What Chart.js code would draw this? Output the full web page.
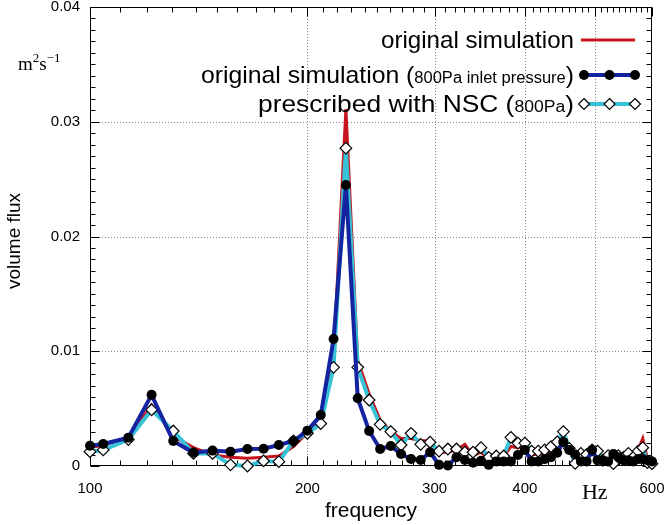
<!DOCTYPE html>
<html><head><meta charset="utf-8">
<script src="https://cdn.jsdelivr.net/npm/chart.js@4/dist/chart.umd.min.js"></script>
<style>html,body{margin:0;padding:0;background:#fff;}</style>
</head><body>
<canvas id="c" width="665" height="525" style="width:665px;height:525px;display:block"></canvas>
<script>
// ---- data ----
const frequencies = [100, 104.3, 113.0, 121.7, 130.4, 139.1, 147.8, 156.5, 165.2, 173.9, 182.6, 191.3, 200.0, 208.7,
  217.4, 226.1, 234.8, 243.5, 252.2, 260.9, 269.6, 278.3, 287.0, 295.7, 304.3, 313.0, 321.7, 330.4, 339.1, 347.8,
  356.5, 365.2, 373.9, 382.6, 391.3, 400.0, 408.7, 417.4, 426.1, 434.8, 443.5, 452.2, 460.9, 469.6, 478.3, 487.0,
  495.7, 504.3, 513.0, 521.7, 530.4, 539.1, 547.8, 556.5, 565.2, 573.9, 582.6, 591.3, 600.0];

const originalSimulation = [0.0016, 0.0018, 0.0025, 0.0053, 0.0026, 0.0016, 0.00096, 0.00076, 0.00067, 0.00076, 0.00087, 0.0017, 0.0029, 0.0042,
  0.0095, 0.0311, 0.0092, 0.0063, 0.0040, 0.0030, 0.0024, 0.0024, 0.0022, 0.0022, 0.0012, 0.0012, 0.0014, 0.0019, 0.0009, 0.0012,
  0.0006, 0.0007, 0.0008, 0.0017, 0.0016, 0.0018, 0.0010, 0.0010, 0.0011, 0.0013, 0.0019, 0.0028, 0.0014, 0.0006, 0.0008, 0.0008,
  0.0012, 0.0010, 0.0006, 0.0008, 0.0006, 0.0008, 0.0007, 0.0009, 0.0008, 0.0014, 0.0024, 0.0006, 0.0004];

const originalSimulation800Pa = [0.00177, 0.00192, 0.00247, 0.0062, 0.00218, 0.00116, 0.00134, 0.00125, 0.00148, 0.0015, 0.00183, 0.00218, 0.00308, 0.00444,
  0.01107, 0.02449, 0.0059, 0.00305, 0.00148, 0.00174, 0.00105, 0.00061, 0.00052, 0.0012, 0.0001, 0.00004, 0.00076, 0.00052, 0.00029, 0.00046,
  0.0001, 0.0004, 0.0004, 0.0004, 0.00096, 0.0014, 0.0004, 0.0004, 0.0006, 0.00076, 0.00116, 0.0021, 0.0014, 0.001, 0.0004, 0.0004,
  0.0014, 0.0005, 0.0005, 0.0004, 0.00105, 0.00076, 0.0005, 0.0005, 0.0004, 0.0006, 0.0006, 0.0005, 0.0004];

const prescribedNSC800Pa = [0.00125, 0.0014, 0.0023, 0.0049, 0.00305, 0.0011, 0.0011, 0.0001, 0.0, 0.00044, 0.00038, 0.00218, 0.00285, 0.0037,
  0.0086, 0.0277, 0.0086, 0.00575, 0.00363, 0.003, 0.00183, 0.00285, 0.00189, 0.00207, 0.0013, 0.00148, 0.00148, 0.0012, 0.0012, 0.0016,
  0.00076, 0.00087, 0.00087, 0.0025, 0.002, 0.002, 0.0013, 0.0013, 0.0014, 0.00168, 0.0021, 0.003, 0.00154, 0.00023, 0.0011, 0.001,
  0.0014, 0.0013, 0.0005, 0.0009, 0.0002, 0.0009, 0.00076, 0.0011, 0.00076, 0.0013, 0.0016, 0.0003, 0.0002];

const xTickValues = [100, 200, 300, 400, 500, 600];
const xTickLabels = ['100', '200', '300', '400', 'Hz', '600'];
const yTickValues = [0, 0.01, 0.02, 0.03, 0.04];
const yTickLabels = ['0', '0.01', '0.02', '0.03', '0.04'];
const xGridValues = [200, 300, 400, 500];
const yGridValues = [0.01, 0.02, 0.03];
const xTitle = 'frequency';
const yTitle = 'volume flux';
const unitLabelValue = 0.035;

// ---- styling ----
const RED = '#c8141e', BLUE = '#1423a0', CYAN = '#37c3d7';
const SANS = '"Liberation Sans", Arial, sans-serif';
const SERIF = '"Liberation Serif", "DejaVu Serif", serif';

const pts = (arr) => frequencies.map((f, i) => ({ x: f, y: arr[i] }));
const noPad = (s) => { s.paddingTop = 0; s.paddingBottom = 0; s.paddingLeft = 0; s.paddingRight = 0; };

function drawDiamond(ctx, px, py, r) {
  ctx.beginPath();
  ctx.moveTo(px, py - r); ctx.lineTo(px + r, py); ctx.lineTo(px, py + r); ctx.lineTo(px - r, py); ctx.closePath();
  ctx.fillStyle = '#fff'; ctx.fill(); ctx.strokeStyle = '#000'; ctx.lineWidth = 1.2; ctx.stroke();
}

const framePlugin = {
  id: 'frame',
  beforeDatasetsDraw(chart) {
    const { ctx, chartArea: a, scales: { x, y } } = chart;
    ctx.save();
    ctx.strokeStyle = '#8a8a8a';
    ctx.lineWidth = 1;
    ctx.setLineDash([1, 2]);
    xGridValues.forEach(v => {
      const px = Math.round(x.getPixelForValue(v)) + 0.5;
      ctx.beginPath(); ctx.moveTo(px, a.top); ctx.lineTo(px, a.bottom); ctx.stroke();
    });
    yGridValues.forEach(v => {
      const py = Math.round(y.getPixelForValue(v)) + 0.5;
      ctx.beginPath(); ctx.moveTo(a.left, py); ctx.lineTo(a.right, py); ctx.stroke();
    });
    ctx.setLineDash([]);
    ctx.strokeStyle = '#000';
    ctx.lineWidth = 1;
    const L = Math.round(a.left) + 0.5, R = Math.round(a.right) - 0.5;
    const T = Math.round(a.top) + 0.5, B = Math.round(a.bottom) - 0.5;
    for (let f = 100; f <= 600; f += 10) {
      const major = f % 100 === 0;
      const len = major ? 9 : 5;
      const px = Math.round(x.getPixelForValue(f)) + 0.5;
      ctx.beginPath();
      ctx.moveTo(px, B); ctx.lineTo(px, B - len);
      ctx.moveTo(px, T); ctx.lineTo(px, T + len);
      ctx.stroke();
    }
    for (let k = 0; k <= 40; k++) {
      const v = k / 1000;
      const major = k % 10 === 0;
      const len = major ? 9 : 5;
      const py = Math.round(y.getPixelForValue(v)) + 0.5;
      ctx.beginPath();
      ctx.moveTo(L, py); ctx.lineTo(L + len, py);
      ctx.moveTo(R, py); ctx.lineTo(R - len, py);
      ctx.stroke();
    }
    ctx.strokeRect(L, T, R - L, B - T);
    ctx.restore();
  },
  afterDraw(chart) {
    const { ctx, chartArea: a, scales: { y } } = chart;
    ctx.save();
    ctx.fillStyle = '#000';
    ctx.textBaseline = 'alphabetic';
    // y axis title
    ctx.save();
    ctx.translate(15, 241);
    ctx.rotate(-Math.PI / 2);
    ctx.font = '19px ' + SANS;
    ctx.textAlign = 'center';
    ctx.textBaseline = 'middle';
    ctx.fillText(yTitle, 0, 0);
    ctx.restore();

    // unit label m^2 s^-1
    const uy = y.getPixelForValue(unitLabelValue) + 6;
    let ux = 18;
    const seg = (t, size, dy) => {
      ctx.font = size + 'px ' + SERIF;
      ctx.fillText(t, ux, uy + dy);
      ux += ctx.measureText(t).width;
    };
    seg('m', 19, 0); seg('2', 13, -8); seg('s', 19, 0); seg('\u22121', 13, -8);

    // legend
    const items = [
      { parts: [['original simulation', 24]], type: 'red', yc: 40, left: 381 },
      { parts: [['original simulation (', 24], ['800Pa inlet pressure', 16], [')', 24]], type: 'blue', yc: 75, left: 201 },
      { parts: [['prescribed with NSC (', 24], ['800Pa', 16], [')', 24]], type: 'cyan', yc: 104, left: 258 },
    ];
    const textRight = 574, s0 = 584, s1 = 635;
    items.forEach(it => {
      let w = 0;
      it.parts.forEach(([t, sz]) => { ctx.font = sz + 'px ' + SANS; w += ctx.measureText(t).width; });
      const k = (textRight - it.left) / w;
      ctx.save();
      ctx.translate(it.left, it.yc + 8);
      ctx.scale(k, 1);
      let tx = 0;
      it.parts.forEach(([t, sz]) => {
        ctx.font = sz + 'px ' + SANS;
        ctx.fillText(t, tx, 0);
        tx += ctx.measureText(t).width;
      });
      ctx.restore();
      ctx.lineCap = 'butt';
      if (it.type === 'red') {
        ctx.strokeStyle = RED; ctx.lineWidth = 3;
        ctx.beginPath(); ctx.moveTo(s0 - 3, it.yc); ctx.lineTo(s1, it.yc); ctx.stroke();
      } else if (it.type === 'blue') {
        ctx.strokeStyle = BLUE; ctx.lineWidth = 4;
        ctx.beginPath(); ctx.moveTo(s0, it.yc); ctx.lineTo(s1, it.yc); ctx.stroke();
        ctx.fillStyle = '#000';
        [s0, (s0 + s1) / 2, s1].forEach(px => { ctx.beginPath(); ctx.arc(px, it.yc, 5, 0, Math.PI * 2); ctx.fill(); });
      } else {
        ctx.strokeStyle = CYAN; ctx.lineWidth = 4;
        ctx.beginPath(); ctx.moveTo(s0, it.yc); ctx.lineTo(s1, it.yc); ctx.stroke();
        [s0, (s0 + s1) / 2, s1].forEach(px => drawDiamond(ctx, px, it.yc, 5.5));
      }
      ctx.fillStyle = '#000';
    });
    ctx.restore();
  }
};

new Chart(document.getElementById('c'), {
  type: 'scatter',
  data: {
    datasets: [
      { label: 'original simulation (800Pa inlet pressure)', data: pts(originalSimulation800Pa), showLine: true,
        borderColor: BLUE, borderWidth: 4, pointStyle: 'circle', pointRadius: 5, pointBackgroundColor: '#000',
        pointBorderColor: '#000', pointBorderWidth: 0, order: 1, clip: false, tension: 0 },
      { label: 'prescribed with NSC (800Pa)', data: pts(prescribedNSC800Pa), showLine: true,
        borderColor: CYAN, borderWidth: 4, pointStyle: 'rectRot', pointRadius: 5.8, pointBackgroundColor: '#fff',
        pointBorderColor: '#000', pointBorderWidth: 1.2, order: 2, clip: false, tension: 0 },
      { label: 'original simulation', data: pts(originalSimulation), showLine: true,
        borderColor: RED, borderWidth: 3, pointRadius: 0, order: 3, clip: false, tension: 0 },
    ]
  },
  options: {
    responsive: false, animation: false, devicePixelRatio: 1,
    layout: { padding: { left: 0, top: 7, right: 13, bottom: 0 }, autoPadding: false },
    plugins: { legend: { display: false }, tooltip: { enabled: false } },
    scales: {
      x: {
        type: 'logarithmic', min: 100, max: 600, position: 'bottom',
        afterBuildTicks: (s) => { s.ticks = xTickValues.map(v => ({ value: v })); },
        afterFit: (s) => { s.height = 59; noPad(s); },
        grid: { display: false, drawTicks: false }, border: { display: false },
        ticks: {
          autoSkip: false, maxRotation: 0, padding: 14, color: '#000',
          callback: (v) => xTickLabels[xTickValues.indexOf(v)],
          font: (c) => (c.tick && c.tick.value === 500) ? { family: SERIF, size: 22 } : { family: SANS, size: 15 }
        },
        title: { display: true, text: xTitle, color: '#000', font: { family: SANS, size: 21 }, padding: { top: 0, bottom: 1 } }
      },
      y: {
        type: 'linear', min: 0, max: 0.04, position: 'left',
        afterBuildTicks: (s) => { s.ticks = yTickValues.map(v => ({ value: v })); },
        afterFit: (s) => { s.width = 90; noPad(s); },
        grid: { display: false, drawTicks: false }, border: { display: false },
        ticks: {
          padding: 10, color: '#000', font: { family: SANS, size: 15 },
          callback: (v) => yTickLabels[yTickValues.indexOf(v)]
        },
        title: { display: false }
      }
    }
  },
  plugins: [framePlugin]
});
</script>
</body></html>
